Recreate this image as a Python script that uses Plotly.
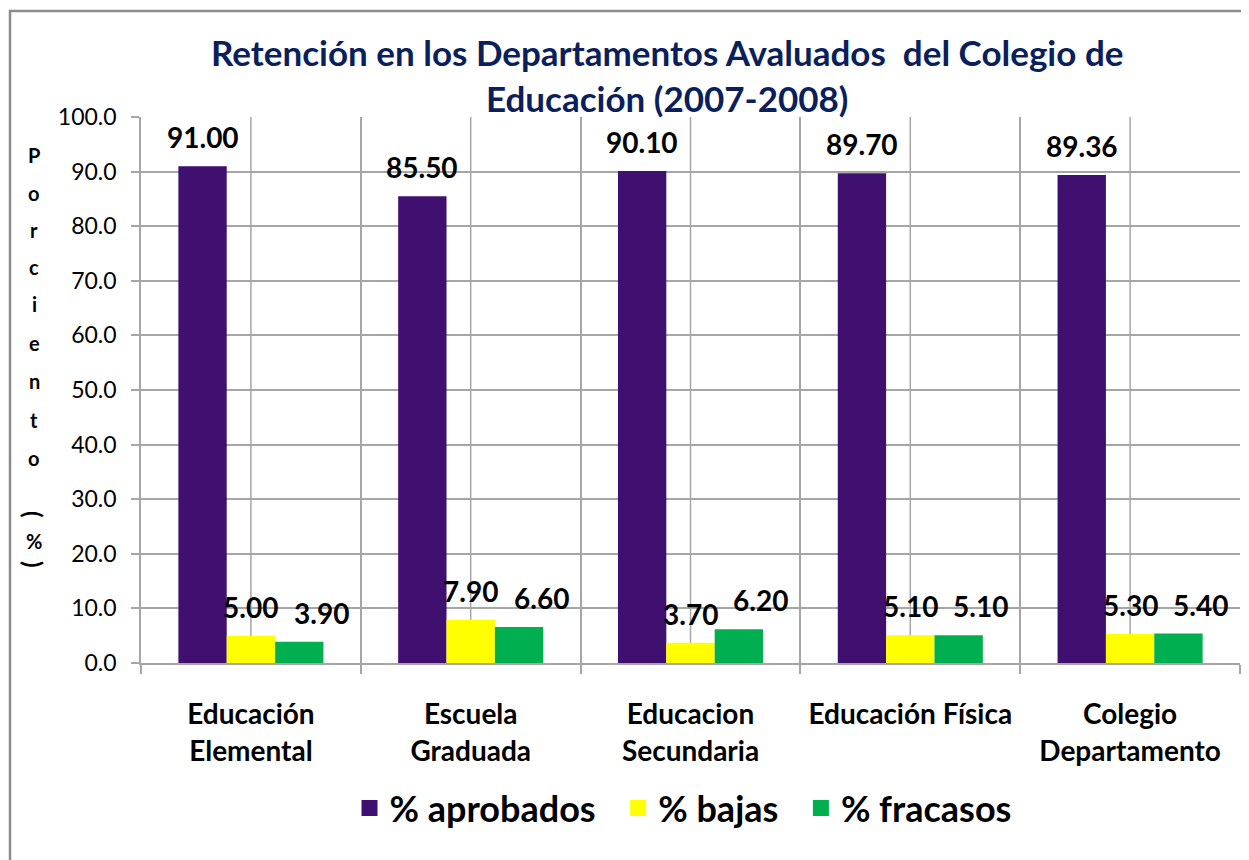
import plotly.graph_objects as go

categories = ["Educación<br>Elemental", "Escuela<br>Graduada", "Educacion<br>Secundaria",
              "Educación Física", "Colegio<br>Departamento"]
aprobados = [91.00, 85.50, 90.10, 89.70, 89.36]
bajas = [5.00, 7.90, 3.70, 5.10, 5.30]
fracasos = [3.90, 6.60, 6.20, 5.10, 5.40]
series_names = ["% aprobados", "% bajas", "% fracasos"]
y_ticks = [0, 10, 20, 30, 40, 50, 60, 70, 80, 90, 100]
title_text = "Retención en los Departamentos Avaluados  del Colegio de<br>Educación (2007-2008)"

OFF = 8  # page body margin
W, H = 1241, 852
# target plot area in page pixels: left 141, right 1240, top 117, bottom 663
ML, MT = 141 - OFF, 117 - OFF
MR = W - (1240 - OFF)
MB = H - (663 - OFF)
PW, PH = W - ML - MR, H - MT - MB

def px_x(p):
    return (p - OFF - ML) / PW

def px_y(p):
    return (H - MB - (p - OFF)) / PH

FONT = "Lato"
colors = ["#3F106F", "#FFFF00", "#00B050"]

fig = go.Figure()
for name, vals, col in zip(series_names, [aprobados, bajas, fracasos], colors):
    fig.add_trace(go.Bar(x=categories, y=vals, name=name, showlegend=False,
                         marker=dict(color=col, line=dict(width=0))))
# legend proxies (square swatches); trailing spaces widen the gap between entries
for name, col in zip(series_names, colors):
    fig.add_trace(go.Scatter(x=[None], y=[None], mode="markers", name=name + "\u00a0\u00a0",
                             marker=dict(symbol="square", size=21, color=col)))

annotations = []
bar_px = PW / len(categories) * (1 - 0.34) / 3
label_shift = [-bar_px, 0, bar_px + 22]
for si, vals in enumerate([aprobados, bajas, fracasos]):
    for c, v in zip(categories, vals):
        annotations.append(dict(x=c, y=v, xref="x", yref="y", text=f"{v:.2f}", showarrow=False,
                                xshift=label_shift[si], yshift=29, yanchor="middle",
                                font=dict(family=FONT, size=28, color="#000000", weight="bold")))

# vertical axis title letters (stacked); parentheses rotated as in the reference
letters = ["P", "o", "r", "c", "i", "e", "n", "t", "o", "(", "%", ")"]
ypos = [155, 193, 230, 267, 304, 343, 381, 420, 458, 514, 541, 564]
for ch, yp in zip(letters, ypos):
    annotations.append(dict(x=px_x(34), y=px_y(yp), xref="paper", yref="paper", text=ch, showarrow=False,
                            xanchor="center", yanchor="middle",
                            textangle=90 if ch in "()" else 0,
                            font=dict(family=FONT, size=20 if ch not in "()" else 24,
                                      color="#000000", weight="bold")))

# chart title
annotations.append(dict(x=px_x(667), y=px_y(75), xref="paper", yref="paper", text=title_text,
                        showarrow=False, xanchor="center", yanchor="middle", align="center",
                        font=dict(family=FONT, size=35, color="#0A1F5C", weight="bold")))

fig.update_layout(
    width=W, height=H,
    margin=dict(l=ML, r=MR, t=MT, b=MB),
    paper_bgcolor="white", plot_bgcolor="white",
    barmode="group", bargap=0.34, bargroupgap=0,
    legend=dict(orientation="h", x=px_x(692), xanchor="center", y=px_y(808), yanchor="middle",
                font=dict(family=FONT, size=36, color="#000000", weight="bold"),
                itemsizing="trace", traceorder="normal"),
    annotations=annotations,
    shapes=[dict(type="rect", xref="paper", yref="paper",
                 x0=px_x(10), x1=px_x(1270), y0=px_y(900), y1=px_y(11),
                 line=dict(color="#8C8C8C", width=2.5), fillcolor="rgba(0,0,0,0)", layer="below")]
           + [dict(type="line", xref="x", yref="paper", x0=c, x1=c, y0=0, y1=1,
                   line=dict(color="#A6A6A6", width=1.5), layer="below") for c in categories],
)
fig.update_xaxes(tickson="boundaries", showgrid=True, gridcolor="#A6A6A6", gridwidth=1.5,
                 ticks="outside", ticklen=9, tickcolor="#A6A6A6", tickwidth=1.5,
                 showline=True, linecolor="#A6A6A6", linewidth=1.5,
                 tickfont=dict(family=FONT, size=28, color="#000000", weight="bold"),
                 tickangle=0, ticklabelstandoff=26)
fig.update_yaxes(range=[0, 100], tickvals=y_ticks, tickformat=".1f",
                 showgrid=True, gridcolor="#A6A6A6", gridwidth=1.5,
                 ticks="outside", ticklen=8, tickcolor="#A6A6A6", tickwidth=1.5,
                 showline=True, linecolor="#A6A6A6", linewidth=1.5, zeroline=False,
                 tickfont=dict(family=FONT, size=23, color="#000000"),
                 ticklabelstandoff=10)

fig.write_html("out.html")
